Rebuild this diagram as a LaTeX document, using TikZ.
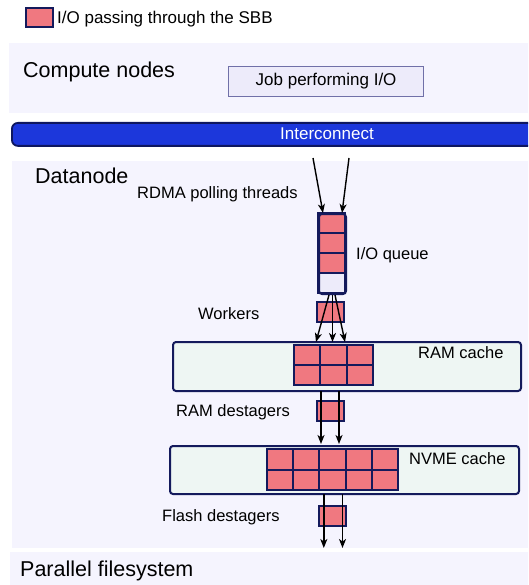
\documentclass[tikz,border=0pt]{standalone}
\usepackage{fontspec}
\setmainfont{Liberation Sans}
\usetikzlibrary{arrows.meta,calc}

\definecolor{panel}{HTML}{F5F4FE}
\definecolor{mint}{HTML}{EEF6F3}
\definecolor{cellred}{HTML}{F07880}
\definecolor{navy}{HTML}{141A5C}
\definecolor{jobfill}{HTML}{EDEBFA}
\definecolor{jobdraw}{HTML}{7070A8}
\definecolor{busfill}{HTML}{1C37DB}
\definecolor{busdraw}{HTML}{0E1760}

\tikzset{
  header/.style={font=\fontsize{21.5}{24}\selectfont, inner sep=0pt, anchor=base west},
  label/.style={font=\fontsize{16.5}{19}\selectfont, inner sep=0pt, anchor=base west},
  cell/.style={draw=navy, fill=cellred, line width=2pt, inner sep=0pt, outer sep=0pt, anchor=north west},
  cachebox/.style={draw=navy, fill=mint, line width=2pt, rounded corners=3pt, inner sep=0pt, outer sep=0pt, anchor=north west},
  arr/.style={-{Stealth[length=9pt,width=7pt,inset=2.5pt]}, line width=1.4pt, black},
}

\begin{document}
\begin{tikzpicture}[x=1pt,y=-1pt]
\useasboundingbox (0,0) rectangle (528,585);
\clip (0,0) rectangle (528,585);

% background panels
\node[fill=panel, inner sep=0pt, minimum width=530, minimum height=70, anchor=north west] (compute) at (9,43) {};
\node[fill=panel, inner sep=0pt, minimum width=530, minimum height=387, anchor=north west] (datanode) at (12,161) {};
\node[fill=panel, inner sep=0pt, minimum width=530, minimum height=40, anchor=north west] (pfs) at (10,552) {};

% legend
\node[cell, minimum width=27, minimum height=19] (legendkey) at (26,8) {};
\node[font=\fontsize{17}{20}\selectfont, inner sep=0pt, anchor=base west] (legendtext) at (57,24) {I/O passing through the SBB};

% compute nodes
\node[header] (computelabel) at (23,78) {Compute nodes};
\node[draw=jobdraw, fill=jobfill, line width=1.2pt, minimum width=195, minimum height=30, inner sep=0pt, anchor=north west,
      font=\fontsize{17}{20}\selectfont] (job) at (228,66) {Job performing I/O};

% interconnect
\node[draw=busdraw, fill=busfill, line width=1.8pt, rounded corners=6pt, minimum width=560, minimum height=23, inner sep=0pt,
      anchor=north west] (bus) at (11,122) {};
\node[text=white, font=\fontsize{17}{20}\selectfont, inner sep=0pt] (buslabel) at (327,133.5) {Interconnect};

% datanode
\node[header] (datanodelabel) at (35,183) {Datanode};
\node[label] (rdmalabel) at (137,198) {RDMA polling threads};

% I/O queue
\node[cell, minimum width=27, minimum height=20] (q1) at (318,213) {};
\node[cell, minimum width=27, minimum height=20] (q2) at (318,233) {};
\node[cell, minimum width=27, minimum height=20] (q3) at (318,253) {};
\node[cell, fill=jobfill, minimum width=27, minimum height=20] (q4) at (318,273) {};
\node[draw=navy, line width=2pt, rounded corners=3pt, minimum width=27, minimum height=80, inner sep=0pt, anchor=north west] (queue) at (318,213) {};
\node[label] (queuelabel) at (356,259) {I/O queue};

% workers
\node[label] (workerslabel) at (198,319) {Workers};
\node[cell, minimum width=27, minimum height=20] (workers) at (317,302) {};

% RAM cache
\node[cachebox, minimum width=348, minimum height=49] (ram) at (173,342) {};
\foreach \i in {0,1,2} {
  \foreach \j in {0,1} {
    \node[cell, minimum width=26.3, minimum height=20] (r-\i-\j) at ({294+26.3*\i},{345+20*\j}) {};
  }
}
\node[label] (ramlabel) at (418,358) {RAM cache};

% RAM destagers
\node[label] (rdlabel) at (176,416) {RAM destagers};
\node[cell, minimum width=27, minimum height=20] (rd) at (317,401) {};

% NVME cache
\node[cachebox, minimum width=349, minimum height=48] (nvme) at (170,446) {};
\foreach \i in {0,...,4} {
  \foreach \j in {0,1} {
    \node[cell, minimum width=26.2, minimum height=20.5] (n-\i-\j) at ({267+26.2*\i},{449+20.5*\j}) {};
  }
}
\node[label] (nvmelabel) at (409,464) {NVME cache};

% flash destagers
\node[label] (fdlabel) at (162,521) {Flash destagers};
\node[cell, minimum width=27, minimum height=20] (fd) at (319,506) {};

% parallel filesystem
\node[header] (pfslabel) at (20,576) {Parallel filesystem};

% connectors
\coordinate (in1) at (313,158);
\coordinate (in2) at (349,158);
\draw[arr] (in1) -- ([xshift=5pt]queue.north west);
\draw[arr] (in2) -- ([xshift=-5pt]queue.north east);

\draw[arr] ([xshift=-3.5pt]queue.south) -- ($(queue.south |- ram.north)+(-16.5,0)$);
\draw[arr] (queue.south) -- (queue.south |- ram.north);
\draw[arr] ([xshift=2.5pt]queue.south) -- ($(queue.south |- ram.north)+(12.5,0)$);

\draw[arr] ($(rd.center |- ram.south)+(-9.5,0)$) -- ($(rd.center |- nvme.north)+(-9.5,-2)$);
\draw[arr] ($(rd.center |- ram.south)+(8.5,0)$) -- ($(rd.center |- nvme.north)+(8.5,-2)$);

\draw[arr] ($(fd.center |- nvme.south)+(-8.7,0)$) -- ($(fd.center |- pfs.north)+(-8.7,-4)$);
\draw[arr] ($(fd.center |- nvme.south)+(10,0)$) -- ($(fd.center |- pfs.north)+(10,-4)$);
\end{tikzpicture}
\end{document}
